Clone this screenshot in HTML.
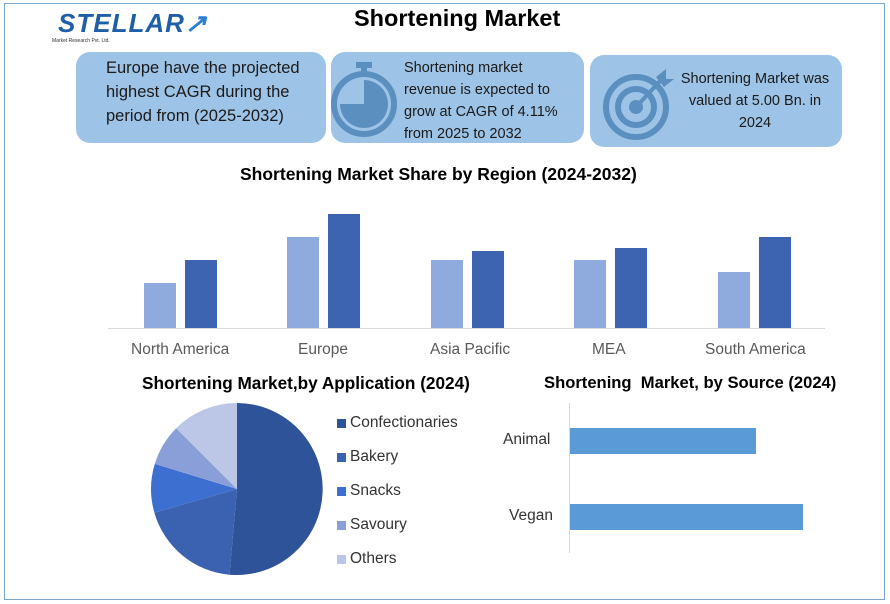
<!DOCTYPE html>
<html><head><meta charset="utf-8"><style>
body{margin:0;width:890px;height:604px;background:#fff;font-family:"Liberation Sans",sans-serif;overflow:hidden;position:relative}
.b{position:absolute;background:#9dc3e6;border-radius:14px;color:#1a1a1a;font-size:14.5px;line-height:22px}
.t{position:absolute;font-weight:bold;color:#000;white-space:nowrap}
.l{position:absolute;font-size:15.5px;color:#595959;white-space:nowrap}
</style></head><body>
<div style="position:absolute;left:4px;top:3px;width:879px;height:595px;border:1px solid #7aa6cc"></div>
<div style="position:absolute;left:58px;top:8px;font-size:26px;font-weight:bold;color:#1f5fa8;letter-spacing:1px;font-style:italic">STELLAR<span style="color:#2d7fd0">↗</span></div>
<div style="position:absolute;left:52px;top:38px;font-size:5px;color:#333">Market Research Pvt. Ltd.</div>
<div class="t" style="left:354px;top:5px;font-size:23.5px">Shortening Market</div>
<div class="b" style="left:76px;top:52px;width:250px;height:91px"><div style="position:absolute;left:30px;top:4px;font-size:16.5px;line-height:24px">Europe have the projected<br>highest CAGR during the<br>period from (2025-2032)</div></div>
<div class="b" style="left:331px;top:52px;width:253px;height:91px">
<svg style="position:absolute;left:0;top:8px" width="70" height="80"><rect x="25" y="2" width="16" height="6" fill="#5b8fc0"/><rect x="30" y="6" width="6" height="8" fill="#5b8fc0"/><circle cx="33" cy="44" r="30" fill="none" stroke="#5b8fc0" stroke-width="6"/><path d="M33 44 L33 20 A24 24 0 1 1 9 44 Z" fill="#5b8fc0"/></svg>
<div style="position:absolute;left:73px;top:5px">Shortening market<br>revenue is expected to<br>grow at CAGR of 4.11%<br>from 2025 to 2032</div></div>
<div class="b" style="left:590px;top:55px;width:252px;height:92px">
<svg style="position:absolute;left:10px;top:10px" width="75" height="75"><circle cx="36" cy="42" r="30" fill="none" stroke="#5b8fc0" stroke-width="6"/><circle cx="36" cy="42" r="18" fill="none" stroke="#5b8fc0" stroke-width="6"/><circle cx="36" cy="42" r="7" fill="#5b8fc0"/><line x1="36" y1="42" x2="62" y2="14" stroke="#5b8fc0" stroke-width="4"/><path d="M56 12 L66 4 L66 14 L74 14 L64 22 Z" fill="#5b8fc0"/></svg>
<div style="position:absolute;left:80px;top:13px;width:170px;text-align:center">Shortening Market was<br>valued at 5.00 Bn. in<br>2024</div></div>
<div class="t" style="left:240px;top:164px;font-size:17.5px">Shortening Market Share by Region (2024-2032)</div>
<svg style="position:absolute;left:0;top:0" width="890" height="604">
<line x1="108" y1="328.5" x2="825" y2="328.5" stroke="#d9d9d9"/>
<g fill="#8faadc"><rect x="144" y="283" width="32" height="45"/><rect x="287" y="237" width="32" height="91"/><rect x="431" y="260" width="32" height="68"/><rect x="574" y="260" width="32" height="68"/><rect x="718" y="272" width="32" height="56"/></g>
<g fill="#3c64b1"><rect x="185" y="260" width="32" height="68"/><rect x="328" y="214" width="32" height="114"/><rect x="472" y="251" width="32" height="77"/><rect x="615" y="248" width="32" height="80"/><rect x="759" y="237" width="32" height="91"/></g>
<path d="M237 489 L237 403 A86 86 0 1 1 229.5 574.7Z" fill="#2e5398"/>
<path d="M237 489 L229.5 574.7 A86 86 0 0 1 154.4 512.7Z" fill="#3a62b0"/>
<path d="M237 489 L154.4 512.7 A86 86 0 0 1 154.8 463.9Z" fill="#3d6fd0"/>
<path d="M237 489 L154.8 463.9 A86 86 0 0 1 176.2 428.2Z" fill="#8a9fd8"/>
<path d="M237 489 L176.2 428.2 A86 86 0 0 1 237 403Z" fill="#bcc6e6"/>
<g><rect x="337" y="419" width="9" height="9" fill="#2e5398"/><rect x="337" y="453" width="9" height="9" fill="#3a62b0"/><rect x="337" y="487" width="9" height="9" fill="#3d6fd0"/><rect x="337" y="521" width="9" height="9" fill="#8a9fd8"/><rect x="337" y="555" width="9" height="9" fill="#bcc6e6"/></g>
<line x1="569.5" y1="403" x2="569.5" y2="553" stroke="#d9d9d9"/>
<rect x="570" y="428" width="186" height="26" fill="#5b9bd5"/>
<rect x="570" y="504" width="233" height="26" fill="#5b9bd5"/>
</svg>
<div class="l" style="left:131px;top:341px">North America</div>
<div class="l" style="left:298px;top:341px">Europe</div>
<div class="l" style="left:430px;top:341px">Asia Pacific</div>
<div class="l" style="left:592px;top:341px">MEA</div>
<div class="l" style="left:705px;top:341px">South America</div>
<div class="t" style="left:142px;top:373px;font-size:17.2px">Shortening Market,by Application (2024)</div>
<div class="t" style="left:544px;top:373px;font-size:16.6px">Shortening&nbsp; Market, by Source (2024)</div>
<div class="l" style="left:350px;top:414px;color:#333">Confectionaries</div>
<div class="l" style="left:350px;top:448px;color:#333">Bakery</div>
<div class="l" style="left:350px;top:482px;color:#333">Snacks</div>
<div class="l" style="left:350px;top:516px;color:#333">Savoury</div>
<div class="l" style="left:350px;top:550px;color:#333">Others</div>
<div class="l" style="left:503px;top:431px;color:#333">Animal</div>
<div class="l" style="left:509px;top:507px;color:#333">Vegan</div>
</body></html>
